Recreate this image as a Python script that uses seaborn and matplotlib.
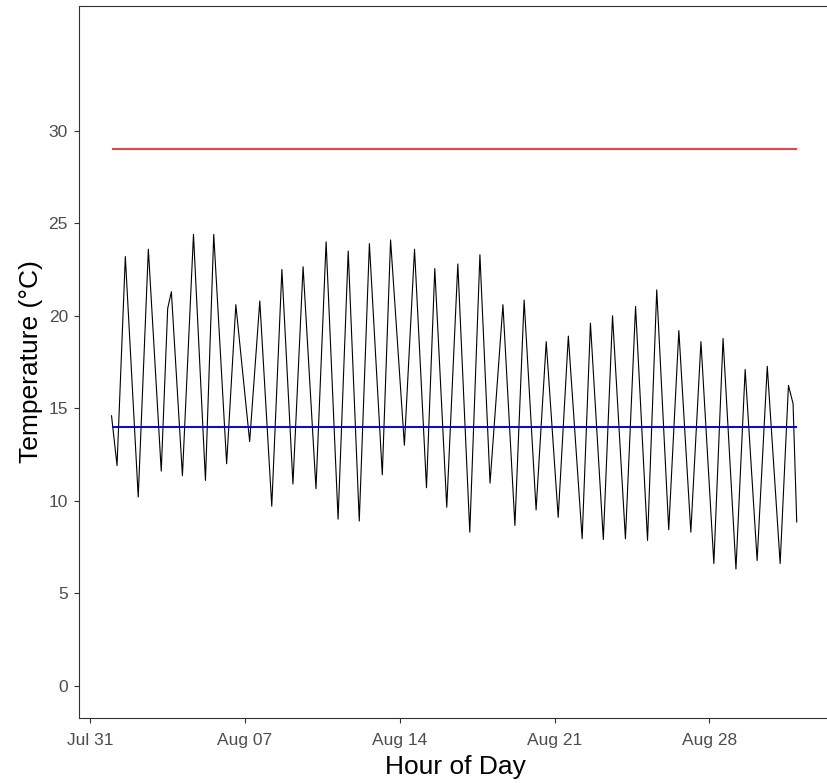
import matplotlib
matplotlib.use("Agg")
import matplotlib.pyplot as plt
import seaborn as sns
import pandas as pd

# ---- data ----
base_time = "2019-07-31 00:00"
# hours since Jul 31 00:00 of the daily highs/lows of the hourly record
obs_hour = [23, 29, 38, 52, 63, 77, 84, 88, 100, 112, 125, 134, 148, 158, 173, 184,
            197, 208, 220, 231, 245, 256, 269, 280, 292, 303, 317, 326, 341, 352,
            365, 374, 387, 399, 412, 423, 434, 448, 461, 471, 484, 495, 508, 519,
            534, 543, 557, 567, 581, 592, 605, 615, 628, 639, 652, 663, 677, 687,
            701, 711, 724, 735, 749, 758, 763, 767]
obs_temp = [14.6, 11.9, 23.2, 10.2, 23.6, 11.6, 20.4, 21.3, 11.35, 24.4, 11.1, 24.4,
            12.0, 20.6, 13.2, 20.8, 9.7, 22.5, 10.9, 22.65, 10.65, 24.0, 9.0, 23.5,
            8.9, 23.9, 11.4, 24.1, 13.0, 23.6, 10.7, 22.55, 9.65, 22.8, 8.3, 23.3,
            10.95, 20.6, 8.66, 20.85, 9.5, 18.6, 9.1, 18.9, 7.94, 19.6, 7.9, 20.0,
            7.94, 20.5, 7.85, 21.4, 8.43, 19.2, 8.3, 18.6, 6.6, 18.77, 6.3, 17.1,
            6.77, 17.27, 6.6, 16.24, 15.25, 8.84]
upper_threshold = 29.0
lower_threshold = 14.0
x_tick_dates = ["2019-07-31", "2019-08-07", "2019-08-14", "2019-08-21", "2019-08-28"]
x_tick_labels = ["Jul 31", "Aug 07", "Aug 14", "Aug 21", "Aug 28"]
y_ticks = [0, 5, 10, 15, 20, 25, 30]
x_title = "Hour of Day"
y_title = "Temperature (°C)"

# ---- build frame ----
base = pd.Timestamp(base_time)
df = pd.DataFrame({
    "time": base + pd.to_timedelta(obs_hour, unit="h"),
    "temp": obs_temp,
})

sns.set_theme(style="white")
plt.rcParams["font.family"] = ["Liberation Sans", "DejaVu Sans"]

fig = plt.figure(figsize=(8.28, 7.83), dpi=100)
# panel runs slightly past the right edge of the canvas (cropped like the reference)
ax = fig.add_axes([79 / 828, 1 - 718 / 783, 752 / 828, (718 - 6) / 783])

sns.lineplot(data=df, x="time", y="temp", ax=ax, color="black", linewidth=0.8,
             estimator=None, sort=False)

t0, t1 = df["time"].min(), df["time"].max()
ax.hlines(upper_threshold, t0, t1, color="#FF0000", linewidth=1.1)
ax.hlines(lower_threshold, t0, t1, color="#0000FF", linewidth=1.4)

ax.set_xlim(base - pd.Timedelta(hours=12.3), base + pd.Timedelta(hours=804.2))
ax.set_ylim(-1.75, 36.75)

ax.set_xticks(pd.to_datetime(x_tick_dates))
ax.set_xticklabels(x_tick_labels)
ax.set_yticks(y_ticks)
ax.set_yticklabels([str(v) for v in y_ticks])

ax.tick_params(axis="both", which="major", length=3.5, width=0.8, color="#333333",
               labelsize=12.5, labelcolor="#4d4d4d", bottom=True, left=True)
ax.tick_params(axis="x", pad=7)
ax.tick_params(axis="y", pad=4.5)

ax.set_xlabel(x_title, fontsize=19, color="black", labelpad=5)
ax.set_ylabel(y_title, fontsize=19, color="black", labelpad=4)

for s in ["left", "bottom", "top", "right"]:
    ax.spines[s].set_color("#333333")
    ax.spines[s].set_linewidth(0.8)
    ax.spines[s].set_visible(True)

ax.grid(False)
ax.set_facecolor("white")
fig.patch.set_facecolor("white")

fig.savefig("out.png", dpi=100)
